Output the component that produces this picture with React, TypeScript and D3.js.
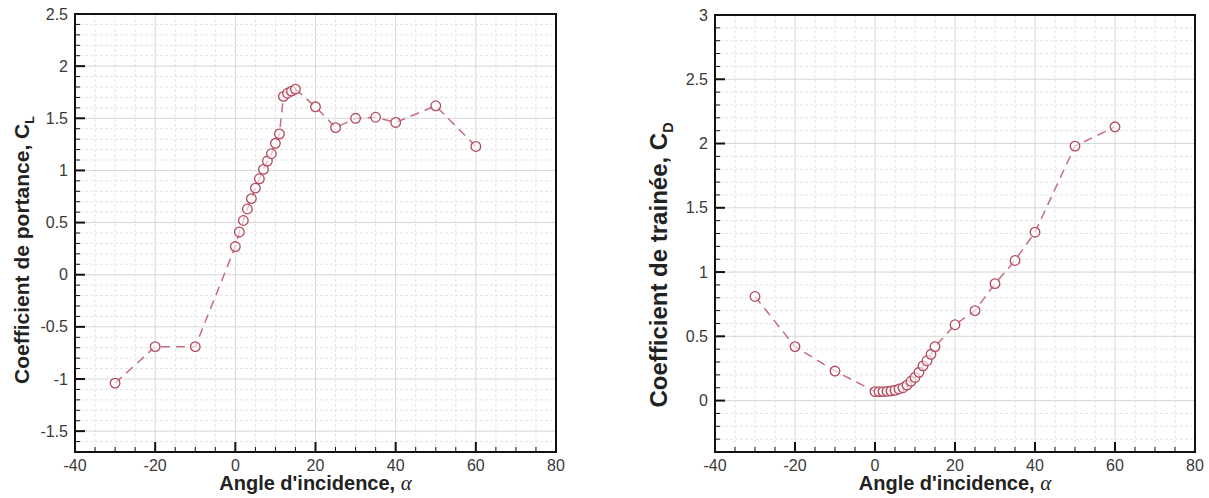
import React from "react";
import * as d3 from "d3";

const alpha = [-30, -20, -10, 0, 1, 2, 3, 4, 5, 6, 7, 8, 9, 10, 11, 12, 13, 14, 15, 20, 25, 30, 35, 40, 50, 60];
const liftCL = [-1.04, -0.69, -0.69, 0.27, 0.41, 0.52, 0.63, 0.73, 0.83, 0.92, 1.01, 1.09, 1.16, 1.26, 1.35, 1.71, 1.74, 1.76, 1.78, 1.61, 1.41, 1.5, 1.51, 1.46, 1.62, 1.23];
const dragCD = [0.81, 0.42, 0.23, 0.07, 0.07, 0.07, 0.072, 0.075, 0.08, 0.09, 0.1, 0.12, 0.15, 0.18, 0.22, 0.27, 0.31, 0.36, 0.42, 0.59, 0.7, 0.91, 1.09, 1.31, 1.98, 2.13];

const xTicks = [-40, -20, 0, 20, 40, 60, 80];
const clTicks = [-1.5, -1, -0.5, 0, 0.5, 1, 1.5, 2, 2.5];
const cdTicks = [0, 0.5, 1, 1.5, 2, 2.5, 3];

const FONT = "'Liberation Sans', Arial, Helvetica, sans-serif";

type PanelProps = {
  left: number; right: number; top: number; bottom: number;
  yDomain: [number, number];
  yTicks: number[];
  values: number[];
  yLabel: string; ySub: string;
  yLabelX: number; yLabelY: number; yLabelSize: number;
};

function fmt(v: number) {
  return String(v);
}

function Panel(p: PanelProps) {
  const x = d3.scaleLinear().domain([-40, 80]).range([p.left, p.right]);
  const y = d3.scaleLinear().domain(p.yDomain).range([p.bottom, p.top]);
  const xMinor = d3.range(-40, 80.001, 5);
  const yMinor = d3.range(Math.ceil(p.yDomain[0] * 10), Math.floor(p.yDomain[1] * 10) + 1).map((v) => v / 10);
  const pts = alpha.map((a, i) => [a, p.values[i]] as [number, number]);
  const line = d3.line<[number, number]>().x((d) => x(d[0])).y((d) => y(d[1]));
  const isMajorY = (v: number) => p.yTicks.some((t) => Math.abs(t - v) < 1e-6);
  return (
    <g>
      {xMinor.map((v) => (
        <line key={"gx" + v} x1={x(v)} x2={x(v)} y1={p.top} y2={p.bottom}
          stroke={v % 20 === 0 ? "#d6d6d6" : "#e4e4e4"} strokeWidth={1}
          strokeDasharray={v % 20 === 0 ? undefined : "3,2"} />
      ))}
      {yMinor.map((v) => (
        <line key={"gy" + v} x1={p.left} x2={p.right} y1={y(v)} y2={y(v)}
          stroke={isMajorY(v) ? "#d6d6d6" : "#e4e4e4"} strokeWidth={1}
          strokeDasharray={isMajorY(v) ? undefined : "3,2"} />
      ))}
      {xMinor.map((v) => (
        <line key={"tx" + v} x1={x(v)} x2={x(v)} y1={p.bottom} y2={p.bottom - (v % 20 === 0 ? 10 : 5)}
          stroke="#111" strokeWidth={v % 20 === 0 ? 2 : 1} />
      ))}
      {yMinor.map((v) => (
        <line key={"ty" + v} x1={p.left} x2={p.left + (isMajorY(v) ? 10 : 5)} y1={y(v)} y2={y(v)}
          stroke="#111" strokeWidth={isMajorY(v) ? 2 : 1} />
      ))}
      <rect x={p.left} y={p.top} width={p.right - p.left} height={p.bottom - p.top}
        fill="none" stroke="#111" strokeWidth={2} />
      {xTicks.map((v) => (
        <text key={"lx" + v} x={x(v)} y={p.bottom + 19} textAnchor="middle"
          fontFamily={FONT} fontSize={16} fill="#3a3a3a">{fmt(v)}</text>
      ))}
      {p.yTicks.map((v) => (
        <text key={"ly" + v} x={p.left - 7} y={y(v)} dy="0.35em" textAnchor="end"
          fontFamily={FONT} fontSize={16} fill="#3a3a3a">{fmt(v)}</text>
      ))}
      <path d={line(pts) || ""} fill="none" stroke="#c66f7f" strokeWidth={1.5} strokeDasharray="9,6" />
      {pts.map((d, i) => (
        <circle key={"c" + i} cx={x(d[0])} cy={y(d[1])} r={4.8} fill="#fff" fillOpacity={0.6}
          stroke="#b24a5d" strokeWidth={1.3} />
      ))}
      <text x={(p.left + p.right) / 2} y={490} textAnchor="middle" fontFamily={FONT}
        fontSize={20} fontWeight="bold" fill="#222">
        Angle d'incidence, <tspan fontFamily="'Liberation Serif', 'DejaVu Serif', serif" fontStyle="italic" fontWeight="normal" fontSize={21}>α</tspan>
      </text>
      <text transform={`translate(${p.yLabelX},${p.yLabelY}) rotate(-90)`} textAnchor="middle"
        fontFamily={FONT} fontSize={p.yLabelSize} fontWeight="bold" fill="#222">
        {p.yLabel}<tspan fontSize={p.yLabelSize * 0.6} dy={p.yLabelSize * 0.25}>{p.ySub}</tspan>
      </text>
    </g>
  );
}

export default function App() {
  return (
    <svg width={1209} height={498} style={{ position: "absolute", left: 0, top: 0, background: "#fff" }}>
      <rect x={0} y={0} width={1209} height={498} fill="#fff" />
      <Panel left={75} right={556} top={14} bottom={452} yDomain={[-1.7, 2.5]} yTicks={clTicks}
        values={liftCL} yLabel="Coefficient de portance, C" ySub="L"
        yLabelX={29} yLabelY={250} yLabelSize={21} />
      <Panel left={715} right={1195} top={15} bottom={452} yDomain={[-0.4, 3]} yTicks={cdTicks}
        values={dragCD} yLabel="Coefficient de trainée, C" ySub="D"
        yLabelX={667} yLabelY={265} yLabelSize={24} />
    </svg>
  );
}
